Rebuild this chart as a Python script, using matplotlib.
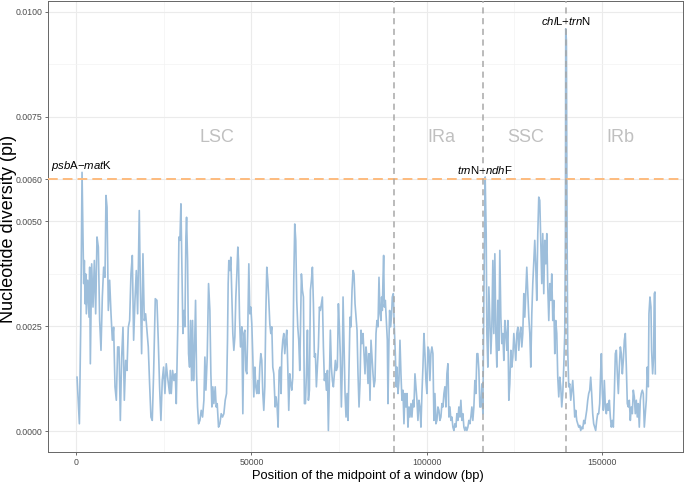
import numpy as np
import matplotlib
matplotlib.use("Agg")
import matplotlib.pyplot as plt

plt.rcParams["font.family"] = ["Liberation Sans", "DejaVu Sans"]
plt.rcParams["mathtext.fontset"] = "custom"
plt.rcParams["mathtext.rm"] = "Liberation Sans"
plt.rcParams["mathtext.it"] = "Liberation Sans:italic"

# sliding window midpoints (kb) and nucleotide diversity (x 1e-3)
window_kb = [
    0.19, 0.86, 1.24, 1.62, 2.09, 2.28, 2.47, 2.66, 2.85, 3.23, 3.61, 3.80, 3.99, 4.37, 4.75, 5.13,
    5.51, 5.89, 6.27, 6.65, 7.03, 7.41, 7.79, 8.17, 8.46, 8.75, 9.12, 9.50, 9.89, 10.27, 10.64, 11.03,
    11.41, 11.79, 12.17, 12.55, 12.93, 13.31, 13.69, 14.07, 14.45, 14.83, 15.21, 15.59, 15.97, 16.35,
    16.73, 17.11, 17.49, 17.96, 18.25, 18.63, 19.01, 19.39, 19.77, 20.15, 20.53, 20.91, 21.29, 21.67,
    22.05, 22.53, 23.00, 23.38, 23.76, 24.14, 24.52, 24.90, 25.28, 25.66, 26.04, 26.61,
    26.81, 27.09, 27.47, 27.85, 28.23, 28.52, 28.80, 28.99, 29.28, 29.56, 29.85, 30.13, 30.42, 30.70,
    30.99, 31.27, 31.46, 31.75, 32.03, 32.32, 32.60, 32.89, 33.17, 33.46, 33.74, 34.03, 34.31, 34.60,
    34.89, 35.27, 35.65, 36.03, 36.41, 36.69, 36.98, 37.36, 37.74, 38.12, 38.40, 38.69, 38.97, 39.26,
    39.64, 39.92, 40.21, 40.59, 40.97, 41.35, 41.73, 42.11, 42.49, 42.87, 43.15, 43.34, 43.53, 43.82,
    44.10, 44.39, 44.67, 44.96, 45.25, 45.53, 45.82, 46.10, 46.29, 46.58, 46.86, 47.24, 47.53, 47.81,
    48.10, 48.38, 48.67, 48.95, 49.24, 49.52, 49.81, 50.09, 50.38, 50.66, 50.95, 51.23, 51.52, 51.80,
    52.09, 52.37, 52.66, 52.94, 53.23, 53.51, 53.80, 54.09, 54.37, 54.66, 54.94, 55.23, 55.51, 55.80,
    56.08, 56.37,
    56.75, 57.03, 57.32, 57.60, 57.89, 58.17, 58.46, 58.65, 58.93, 59.22, 59.50, 59.79, 60.07, 60.36,
    60.64, 60.93, 61.21, 61.50, 61.78, 62.07, 62.35, 62.64, 62.92, 63.21, 63.49, 63.78, 64.06, 64.25,
    64.54, 64.83, 65.11, 65.40, 65.68, 65.97, 66.25, 66.54, 66.82, 67.11, 67.39, 67.68, 67.96, 68.25,
    68.53, 68.82, 69.10, 69.39, 69.67, 69.96, 70.24, 70.53, 70.81, 71.10, 71.38, 71.67, 71.95, 72.24,
    72.52, 72.81, 73.09, 73.38, 73.66, 73.95, 74.23, 74.52, 74.81, 75.09, 75.38, 75.66, 75.95, 76.14,
    76.42, 76.71, 76.99, 77.28, 77.56, 77.85, 78.13, 78.42, 78.70, 78.99, 79.27, 79.56, 79.84, 80.13,
    80.41, 80.70, 80.98, 81.27, 81.55, 81.84, 82.12, 82.41, 82.69, 82.98, 83.26, 83.55, 83.84, 84.12,
    84.41, 84.69, 84.98, 85.26, 85.55, 85.83, 86.12, 86.40, 86.69,
    86.97, 87.16, 87.35, 87.54, 87.73, 87.92, 88.21, 88.49, 88.78, 88.97, 89.25, 89.44, 89.73, 90.01,
    90.20, 90.49, 90.77, 91.06, 91.34, 91.53, 91.82, 92.10, 92.39, 92.67, 92.96, 93.24, 93.53, 93.81,
    94.10, 94.38, 94.67, 94.96, 95.24, 95.53, 95.81, 96.10, 96.38, 96.67, 96.95, 97.24, 97.52, 97.81,
    98.09, 98.38, 98.66, 98.95, 99.23, 99.52, 99.80, 100.09, 100.37, 100.66, 100.94, 101.23, 101.51,
    101.80, 102.08, 102.37, 102.65, 102.94, 103.22, 103.51, 103.79, 104.08, 104.37, 104.65, 104.94,
    105.22, 105.51, 105.79, 106.08, 106.36, 106.65, 106.93, 107.22, 107.50, 107.79, 108.07, 108.36,
    108.64, 108.93, 109.21, 109.50, 109.78, 110.07, 110.35, 110.64, 110.92, 111.21, 111.49, 111.78,
    112.06, 112.35, 112.63, 112.92, 113.20, 113.49, 113.78, 114.06, 114.35, 114.63, 114.92, 115.20,
    115.49, 115.77, 116.06, 116.34, 116.72, 117.01, 117.20, 117.48, 117.77, 118.05, 118.34, 118.62,
    118.91, 119.19, 119.48, 119.76, 120.05, 120.33, 120.62, 120.90, 121.19, 121.47, 121.76, 122.04,
    122.33, 122.61, 122.90, 123.18, 123.47, 123.75, 124.04, 124.32, 124.61, 124.90, 125.18, 125.47,
    125.75, 126.04, 126.32, 126.61, 126.89, 127.18, 127.46, 127.75, 128.03, 128.32, 128.60, 128.89,
    129.17, 129.46, 129.74, 130.03, 130.31, 130.60, 130.88, 131.17, 131.45, 131.74, 132.02, 132.31,
    132.59, 132.88, 133.16, 133.45, 133.73, 134.02, 134.31, 134.59, 134.88, 135.16, 135.45, 135.73,
    136.02, 136.30, 136.59, 136.87, 137.16, 137.44, 137.73, 138.01, 138.30, 138.58, 138.87, 139.15,
    139.44, 139.63, 139.72, 139.91, 140.10, 140.29, 140.58, 140.86, 141.15, 141.43, 141.72, 142.00,
    142.29, 142.57, 142.86, 143.14, 143.43, 143.72, 144.00, 144.29, 144.57, 144.86, 145.14, 145.43,
    145.71, 146.00, 146.28, 146.57,
    146.85, 147.13, 147.42, 147.70, 147.99, 148.27, 148.56, 148.84, 149.13, 149.41, 149.70, 149.89,
    150.17, 150.46, 150.74, 151.03, 151.31, 151.60, 151.88, 152.17, 152.45, 152.74, 153.02, 153.31,
    153.60, 153.88, 154.17, 154.45, 154.74, 155.02, 155.31, 155.59, 155.88, 156.16, 156.45, 156.73,
    157.02, 157.30, 157.59, 157.87, 158.16, 158.44, 158.73, 159.01, 159.30, 159.58, 159.87, 160.15,
    160.44, 160.72, 161.01, 161.29, 161.58, 161.86, 162.15, 162.43, 162.72, 163.00, 163.29, 163.48,
    163.77, 164.05, 164.24, 164.53, 164.81, 165.00, 165.19, 165.29,
]
pi_1e3 = [
    1.29, 0.18, 2.48, 6.17, 3.52, 4.07, 3.04, 3.75, 2.80, 3.60, 2.72, 3.91, 1.61, 3.99, 2.96, 4.07,
    2.80, 4.63, 4.39, 2.64, 1.93, 3.20, 3.91, 3.67, 5.62, 5.34, 2.88, 3.60, 2.80, 2.17, 2.48, 1.06,
    0.74, 2.01, 2.01, 0.26, 1.77, 2.48, 0.74, 1.69, 1.45, 2.48, 2.64, 3.75, 4.19, 2.17,
    3.12, 3.83, 2.80, 5.26, 3.52, 1.85, 4.23, 2.64, 2.80, 2.40, 2.01, 1.13, 0.34, 0.26,
    1.37, 3.16, 3.12, 2.17, 1.06, 0.26, 1.21, 1.53, 0.90, 1.61, 1.29, 0.90,
    1.45, 0.90, 1.45, 1.21, 1.37, 0.66, 1.85, 2.64, 4.63, 4.55, 5.42, 3.91, 2.33, 2.88,
    2.49, 4.63, 5.10, 4.07, 1.85, 1.53, 2.64, 1.21, 2.64, 1.21, 1.93, 3.12, 1.37, 0.58,
    0.18, 0.26, 0.50, 0.34, 0.74, 1.77, 0.98, 1.77, 3.52, 2.88, 1.37, 0.58, 1.06, 0.66,
    1.06, 0.58, 0.66, 0.10, 0.18, 0.42, 0.34, 0.42, 0.74, 0.90, 2.17, 3.52, 4.07, 3.83,
    4.15, 3.20, 2.33, 1.93, 2.25, 3.20, 3.75, 4.39, 4.07, 2.72, 2.01, 2.49, 0.42, 2.33,
    2.41, 1.45, 1.37, 2.49, 3.99, 2.80, 2.96, 2.56, 1.77, 0.82, 1.53, 1.06, 0.90, 1.21,
    0.90, 1.53, 1.85, 1.69, 0.90, 0.50, 1.06, 2.80, 3.91, 3.60, 3.12, 2.56, 2.33, 2.49,
    1.53, 1.37,
    0.58, 0.82, 0.58, 0.10, 1.45, 1.53, 0.90, 1.85, 2.17, 2.33, 1.85, 2.17, 2.41, 1.53,
    0.50, 1.37, 1.14, 0.98, 1.29, 3.60, 4.94, 4.55, 3.12, 2.49, 2.17, 1.45, 2.80, 3.75,
    3.36, 3.20, 0.66, 0.66, 1.37, 2.41, 0.74, 0.98, 3.36, 3.60, 3.91, 3.04, 1.77, 1.85,
    1.06, 1.53, 2.01, 2.96, 2.88, 3.04, 3.20, 2.01, 1.21, 1.37, 0.98, 1.45, 0.02, 1.21,
    2.41, 1.53, 1.21, 1.06, 1.37, 1.69, 1.45, 1.53, 3.04, 2.49, 1.77, 0.58, 1.61, 3.20,
    2.01, 0.90, 0.34, 0.90, 0.26, 1.45, 2.72, 2.49, 3.36, 3.83, 3.75, 3.04, 2.72, 2.41,
    1.37, 0.58, 1.14, 2.41, 2.09, 2.33, 1.85, 1.37, 2.01, 1.77, 1.14, 1.85, 0.74, 2.17,
    1.77, 1.37, 1.06, 1.21, 2.33, 2.64, 2.49, 3.67, 2.80,
    2.64, 3.20, 2.88, 3.60, 4.19, 2.96, 3.12, 2.64, 2.17, 0.66, 2.17, 2.88, 2.49, 2.80,
    3.20, 3.28, 2.49, 1.85, 1.06, 1.53, 0.90, 1.21, 2.17, 1.37, 0.74, 0.98, 0.18, 0.90,
    0.58, 0.90, 0.10, 0.58, 0.34, 0.66, 0.34, 0.74, 0.58, 1.37, 1.06, 0.74, 0.26, 0.74,
    0.58, 0.10, 0.90, 1.53, 2.33, 1.85, 1.21, 0.90, 2.01, 1.93, 1.21, 1.85, 2.01,
    1.85, 0.26, 0.90, 0.18, 0.26, 0.58, 0.50, 0.26, 0.34, 0.66, 0.58, 0.90,
    1.06, 0.58, 1.37, 1.61, 0.34, 0.58, 0.26, 0.34, 0.10, 0.02, 0.18, 0.10,
    0.42, 0.26, 0.58, 0.34, 0.74, 0.26, 0.42, 0.10, 0.02, 0.10, 0.02, 0.10,
    0.26, 0.18, 0.34, 0.58, 0.26, 0.58, 1.21, 0.90, 1.85, 1.85, 1.45, 0.58,
    0.58, 1.13, 0.42, 3.12, 6.06, 4.71, 2.33, 1.53, 3.44, 2.64, 1.85, 2.48,
    4.07, 2.33, 4.23, 2.33, 1.53, 3.12, 1.93, 4.31, 2.72, 2.09, 2.33, 1.69,
    2.64, 2.33, 1.93, 2.64, 0.74, 1.13, 1.93, 1.53, 1.77, 2.33, 2.01, 1.69,
    2.33, 2.48, 1.93, 2.33, 2.48, 2.01, 2.33, 3.28, 2.72, 3.36, 3.91, 3.28,
    2.72, 2.33, 1.53, 2.80, 3.52, 4.07, 4.55, 3.91, 3.12, 4.71, 5.58, 5.50,
    4.55, 3.52, 4.71, 3.28, 4.55, 3.99, 4.71, 3.44, 2.64, 3.52, 3.12, 3.75,
    2.64, 3.12, 1.85, 2.64, 2.33, 1.29, 0.82, 1.29, 1.06, 0.58, 0.90, 1.53,
    2.33, 4.71, 9.59, 9.31, 4.71, 1.93, 1.06, 1.13, 0.74, 0.98, 1.21, 0.82,
    0.34, 0.50, 0.26, 0.18, 0.10, 0.14, 0.02, 0.10, 0.06, 0.26, 0.18, 0.34,
    0.50, 0.74, 0.90, 0.98,
    1.29, 0.90, 0.42, 0.18, 0.10, 0.02, 0.26, 0.42, 0.42, 0.66, 1.45, 1.85,
    0.90, 0.50, 1.21, 0.58, 0.42, 0.66, 0.50, 0.74, 0.34, 0.10, 0.26, 0.10,
    0.90, 1.85, 1.93, 1.37, 0.90, 1.53, 2.01, 1.85, 1.37, 1.69, 2.17, 2.33,
    1.53, 0.66, 0.58, 0.74, 0.26, 0.58, 0.42, 0.98, 0.82, 0.42, 0.74, 0.34,
    0.66, 0.10, 0.74, 0.90, 0.98, 0.90, 0.10, 0.42, 0.74, 1.53, 1.06, 2.80,
    3.20, 2.96, 1.93, 1.37, 1.77, 3.28, 3.32, 1.37,
]

regions = ["LSC", "IRa", "SSC", "IRb"]
region_label_kb = [40.0, 104.3, 128.2, 155.4]
boundaries_kb = [90.7, 116.2, 139.9]
threshold = 0.006
hotspots = [r"$\it{psb}$A−$\it{mat}$K", r"$\it{trn}$N−$\it{ndh}$F", r"$\it{chl}$L−$\it{trn}$N"]
xticks = [0, 50000, 100000, 150000]
yticks = [0, 0.0025, 0.005, 0.006, 0.0075, 0.01]

pos = np.array(window_kb) * 1000
pi = np.array(pi_1e3) / 1000

fig = plt.figure(figsize=(6.85, 4.84), dpi=100)
ax = fig.add_axes([48 / 685, 31.7 / 484, 635 / 685, 451.6 / 484])

# theme_bw-like grid
ax.set_xticks(xticks)
ax.set_xticklabels([str(t) for t in xticks])
ax.set_xticks([25000, 75000, 125000], minor=True)
ax.set_yticks(yticks)
ax.set_yticklabels([f"{t:.4f}" for t in yticks])
ax.set_yticks([0.00125, 0.00375, 0.00875], minor=True)
ax.grid(which="major", color="#EBEBEB", lw=0.8)
ax.grid(which="minor", color="#F3F3F3", lw=0.5)
ax.set_axisbelow(True)
ax.tick_params(which="major", length=2.5, width=0.6, color="#555555",
               labelsize=6.3, labelcolor="#4D4D4D", pad=1.5)
ax.tick_params(which="minor", length=0)
for s in ax.spines.values():
    s.set_color("#666666")
    s.set_linewidth(0.7)

ax.plot(pos, pi, color="#9DBEDB", lw=1.2, zorder=2)
ax.axhline(threshold, color="#FDBB7E", lw=1.4, ls=(0, (5, 2.6)), zorder=3)
for b in boundaries_kb:
    ax.axvline(b * 1000, color="#A8A8A8", lw=1.1, ls=(0, (4, 3)), zorder=4)

for name, x in zip(regions, region_label_kb):
    ax.text(x * 1000, 0.007, name, ha="center", va="center", fontsize=13, color="#C0C0C0")

# label the windows above the threshold
hot = np.flatnonzero(pi >= threshold)
groups = np.split(hot, np.flatnonzero(np.diff(pos[hot]) > 5000) + 1)
peaks = [g[np.argmax(pi[g])] for g in groups]
for label, i in zip(hotspots, peaks):
    ax.annotate(label, (pos[i], pi[i]), xytext=(0, 2.5), textcoords="offset points",
                ha="center", va="baseline", fontsize=8.2, zorder=5)

ax.set_xlim(-8100, 173200)
ax.set_ylim(-0.0005, 0.01026)

fig.text(368 / 685, 1 - 479.5 / 484, "Position of the midpoint of a window (bp)",
         ha="center", va="baseline", fontsize=9.3)
fig.text(9 / 685, 1 - 229 / 484, "Nucleotide diversity (pi)", rotation=90,
         ha="center", va="center", fontsize=13)

fig.savefig("out.png", dpi=100)
